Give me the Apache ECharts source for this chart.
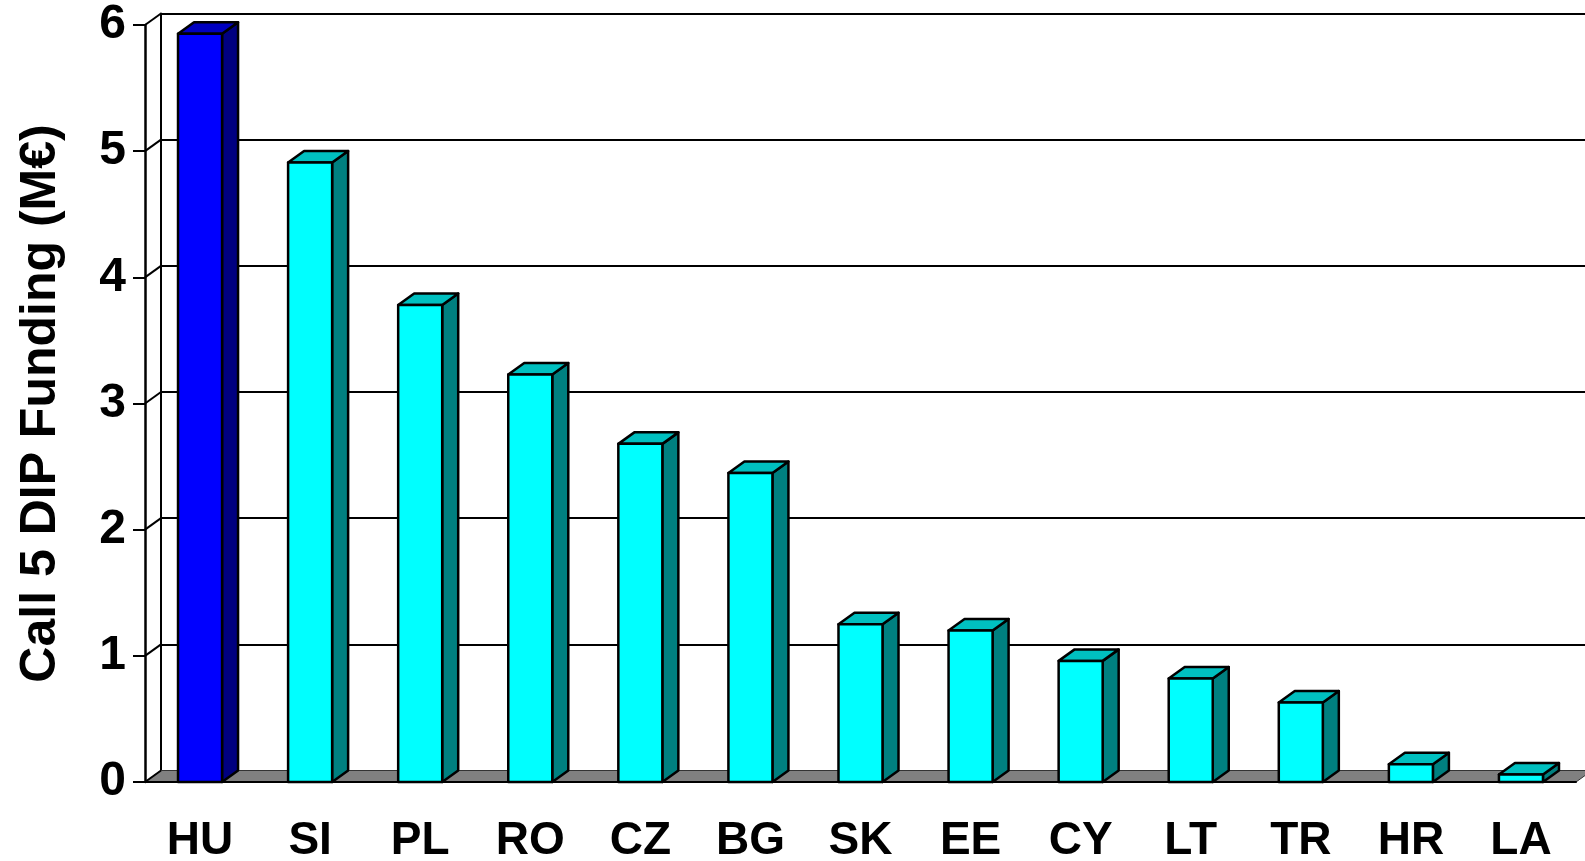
<!DOCTYPE html>
<html>
<head>
<meta charset="utf-8">
<script src="https://cdn.jsdelivr.net/npm/echarts@6/dist/echarts.min.js"></script>
<style>
  html, body { margin: 0; padding: 0; background: #fff; }
  #main { width: 1585px; height: 861px; }
</style>
</head>
<body>
<div id="main"></div>
<script>
// data
var countries = ['HU', 'SI', 'PL', 'RO', 'CZ', 'BG', 'SK', 'EE', 'CY', 'LT', 'TR', 'HR', 'LA'];
var funding = [5.93, 4.91, 3.78, 3.23, 2.68, 2.45, 1.25, 1.20, 0.96, 0.82, 0.63, 0.14, 0.06];
var yTicks = [0, 1, 2, 3, 4, 5, 6];
var highlighted = 'HU';
var axisTitle = 'Call 5 DIP Funding (M€)';

// depth of the fake 3d look
var DX = 16, DY = -11.5;
var FONT = '"Liberation Sans", Arial, sans-serif';

var chart = echarts.init(document.getElementById('main'));

function renderBar(params, api) {
  var idx = api.value(0);
  var top = api.coord([idx, api.value(1)]);
  var base = api.coord([idx, 0]);
  var w = api.size([1, 0])[0] * 0.4;
  var x0 = top[0] - w / 2, x1 = top[0] + w / 2;
  var y0 = base[1], y1 = top[1];
  var hi = countries[idx] === highlighted;
  function st(fill) {
    return { fill: fill, stroke: '#000', lineWidth: 2.5, lineJoin: 'round' };
  }
  return {
    type: 'group',
    children: [
      { type: 'polygon', shape: { points: [[x1, y0], [x1 + DX, y0 + DY], [x1 + DX, y1 + DY], [x1, y1]] },
        style: st(hi ? '#000080' : '#008080') },
      { type: 'polygon', shape: { points: [[x0, y1], [x1, y1], [x1 + DX, y1 + DY], [x0 + DX, y1 + DY]] },
        style: st(hi ? '#0000c0' : '#00c0c0') },
      { type: 'rect', shape: { x: x0, y: y1, width: w, height: y0 - y1 },
        style: st(hi ? '#0000ff' : '#00ffff') }
    ]
  };
}

// gray floor under the bars
function renderFloor(params, api) {
  var cs = params.coordSys;
  var yb = cs.y + cs.height;
  return {
    type: 'polygon',
    shape: { points: [[cs.x, yb], [cs.x + cs.width, yb], [cs.x + cs.width + DX, yb + DY], [cs.x + DX, yb + DY]] },
    style: { fill: '#808080', stroke: '#333', lineWidth: 1 }
  };
}

// diagonal lines on the left wall
function renderWall(params, api) {
  var cs = params.coordSys;
  var y = api.coord([0, api.value(0)])[1];
  return {
    type: 'line',
    shape: { x1: cs.x, y1: y, x2: cs.x + DX, y2: y + DY },
    style: { stroke: '#000', lineWidth: 2 }
  };
}

chart.setOption({
  animation: false,
  grid: [
    { left: 145, right: 9, top: 25, bottom: 79, containLabel: false, outerBoundsMode: 'none' },
    { left: 145 + DX, right: 0, top: 25 + DY, bottom: 79 - DY, containLabel: false, outerBoundsMode: 'none' }
  ],
  xAxis: [
    {
      type: 'category', gridIndex: 0, data: countries, z: 10,
      axisLine: { lineStyle: { color: '#000', width: 2 } },
      axisTick: { interval: 0, length: 13, lineStyle: { color: '#000', width: 2 } },
      axisLabel: { interval: 0, margin: 36, color: '#000', fontSize: 46, fontWeight: 'bold', fontFamily: FONT }
    },
    { type: 'category', gridIndex: 1, data: countries, show: false }
  ],
  yAxis: [
    {
      type: 'value', gridIndex: 0, min: 0, max: 6, interval: 1, z: 10,
      name: axisTitle, nameLocation: 'middle', nameRotate: 90, nameGap: 79,
      nameTextStyle: { color: '#000', fontSize: 50, fontWeight: 'bold', fontFamily: FONT },
      axisLine: { show: true, lineStyle: { color: '#000', width: 2.5 } },
      axisTick: { show: true, length: 12, lineStyle: { color: '#000', width: 2 } },
      axisLabel: { margin: 19, padding: [8, 0, 0, 0], color: '#000', fontSize: 48, fontWeight: 'bold', fontFamily: FONT },
      splitLine: { show: false }
    },
    {
      type: 'value', gridIndex: 1, min: 0, max: 6, interval: 1,
      axisLine: { show: true, lineStyle: { color: '#000', width: 2 } },
      axisTick: { show: false },
      axisLabel: { show: false },
      splitLine: { show: true, lineStyle: { color: '#000', width: 2 } }
    }
  ],
  series: [
    {
      type: 'custom', xAxisIndex: 0, yAxisIndex: 0, z: 1,
      renderItem: renderFloor, data: [0]
    },
    {
      type: 'custom', xAxisIndex: 0, yAxisIndex: 0, z: 2,
      renderItem: renderWall, data: yTicks
    },
    {
      type: 'custom', xAxisIndex: 0, yAxisIndex: 0, z: 3,
      renderItem: renderBar,
      encode: { x: 0, y: 1 },
      data: funding.map(function (v, i) { return [i, v]; })
    }
  ]
});
</script>
</body>
</html>
